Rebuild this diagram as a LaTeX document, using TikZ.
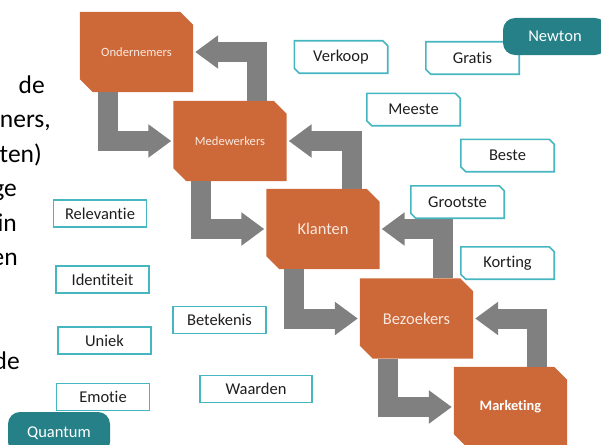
\documentclass[tikz,border=0pt]{standalone}
\usepackage{fontspec}
\setmainfont{Carlito}[Ligatures=NoCommon]
\usetikzlibrary{arrows.meta,backgrounds,positioning}

\definecolor{snipfill}{RGB}{205,104,57}
\definecolor{sniptext}{RGB}{250,232,222}
\definecolor{tealtab}{RGB}{38,128,135}
\definecolor{tealline}{RGB}{70,182,192}
\definecolor{flowgray}{RGB}{128,128,128}
\definecolor{wordtext}{RGB}{30,30,30}

\tikzset{
  stage/.style={minimum width=113pt,minimum height=80pt,inner sep=0pt,text=sniptext,font=\fontsize{16.5}{18}\selectfont},
  smallstage/.style={stage,font=\fontsize{12.6}{14}\selectfont},
  word/.style={minimum width=93pt,minimum height=32pt,inner sep=0pt,text=wordtext,font=\fontsize{16.5}{18}\selectfont},
  plainword/.style={word,minimum height=27pt,draw=tealline,line width=1.6pt},
  tab/.style={fill=tealtab,rounded corners=12pt,inner sep=0pt,text=white,font=\fontsize{16.5}{18}\selectfont},
  cuttext/.style={anchor=base east,inner sep=0pt,font=\fontsize{25.5}{31}\selectfont},
  flow/.style={draw=flowgray,line width=20pt,shorten >=2pt,-{Triangle[width=32pt,length=23pt]}}
}

\begin{document}
\begin{tikzpicture}[x=1pt,y=-1pt]
\useasboundingbox (0,0) rectangle (601,444);

% tekst die links afgesneden is
\node[cuttext] (r1) at (45,93) {de};
\node[cuttext] (r2) at (51,127.5) {ners,};
\node[cuttext] (r3) at (42,162) {ten)};
\node[cuttext] (r4) at (17,196.5) {ge};
\node[cuttext] (r5) at (17,231) {in};
\node[cuttext] (r6) at (18,265.5) {en};
\node[cuttext] (r7) at (20,369) {de};

% de trap
\node[smallstage] (ond) at (136.5,52) {Ondernemers};
\node[smallstage] (mede) at (230,141) {Medewerkers};
\node[stage] (klant) at (323,229) {Klanten};
\node[stage] (bezoek) at (416.5,318.5) {Bezoekers};
\node[stage,font=\fontsize{14.4}{16}\selectfont\bfseries,text=white] (mark) at (510.5,407) {Marketing};

\begin{scope}[on background layer]
\foreach \n in {ond,mede,klant,bezoek,mark}
  \fill[snipfill] (\n.north west) -- ([xshift=-13pt]\n.north east) -- ([yshift=-13pt]\n.north east)
    -- (\n.south east) -- ([xshift=13pt]\n.south west) -- ([yshift=13pt]\n.south west) -- cycle;
\end{scope}

\draw[flow] ([xshift=28pt]ond.south west) |- (mede.west);
\draw[flow] ([xshift=28pt]mede.south west) |- (klant.west);
\draw[flow] ([xshift=28pt]klant.south west) |- (bezoek.west);
\draw[flow] ([xshift=28pt]bezoek.south west) |- (mark.west);
\draw[flow] ([xshift=-30pt]mede.north east) |- (ond.east);
\draw[flow] ([xshift=-28pt]klant.north east) |- (mede.east);
\draw[flow] ([xshift=-30pt]bezoek.north east) |- (klant.east);
\draw[flow] ([xshift=-30pt]mark.north east) |- (bezoek.east);

% woorden rechts
\node[word] (verk) at (341,57) {Verkoop};
\node[word] (grat) at (472.5,58) {Gratis};
\node[word] (mees) at (413.5,109.5) {Meeste};
\node[word] (best) at (507.5,155.5) {Beste};
\node[word] (groot) at (457.5,202) {Grootste};
\node[word] (kort) at (507.5,263) {Korting};
\foreach \n in {verk,grat,mees,best,groot,kort}
  \draw[tealline,line width=1.6pt] (\n.north west) -- ([xshift=-5pt]\n.north east) -- ([yshift=-5pt]\n.north east)
    -- (\n.south east) -- ([xshift=5pt]\n.south west) -- ([yshift=5pt]\n.south west) -- cycle;

% woorden links
\node[plainword] (relev) at (100,213.5) {Relevantie};
\node[plainword] (ident) at (102.5,279.5) {Identiteit};
\node[plainword] (uniek) at (104.5,340.5) {Uniek};
\node[plainword] (emot) at (103,397) {Emotie};
\node[plainword] (betek) at (219.5,320) {Betekenis};
\node[plainword,minimum width=112pt] (waard) at (256,389) {Waarden};

\node[tab,minimum width=104pt,minimum height=37pt] (newton) at (555,36.5) {Newton};
\node[tab,minimum width=102pt,minimum height=42pt] (quant) at (59,433) {Quantum};
\end{tikzpicture}
\end{document}
